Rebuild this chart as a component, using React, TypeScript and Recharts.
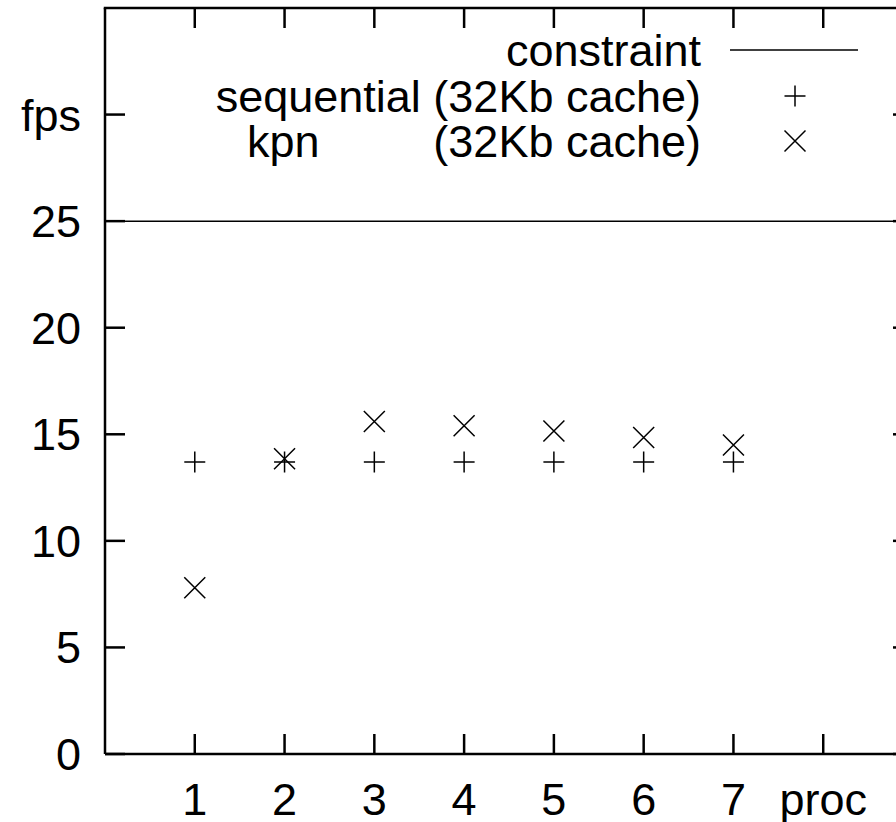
import React from 'react';
import { ComposedChart, Scatter, XAxis, YAxis, ReferenceLine } from 'recharts';

const procs = [1, 2, 3, 4, 5, 6, 7];
const sequentialFps = [13.7, 13.7, 13.7, 13.7, 13.7, 13.7, 13.7];
const kpnFps = [7.8, 13.85, 15.6, 15.4, 15.15, 14.85, 14.5];
const constraintFps = 25;
const xTicks = [1, 2, 3, 4, 5, 6, 7, 8];
const yTicks = [0, 5, 10, 15, 20, 25, 30];
const xMax = 9;
const yMax = 35;
const xLabel = 'proc';
const yLabel = 'fps';
const legendNames = ['constraint', 'sequential (32Kb cache)', 'kpn', '(32Kb cache)'];

const sequentialData = procs.map((p, i) => ({ proc: p, fps: sequentialFps[i] }));
const kpnData = procs.map((p, i) => ({ proc: p, fps: kpnFps[i] }));

const CHART_W = 930;
const CHART_H = 822;
const LEFT_W = 105;
const RIGHT_W = 17;
const TOP_M = 8;
const BOTTOM_H = 68;

const FONT = '"Liberation Sans", Arial, Helvetica, sans-serif';
const FS = 45;
const tickStyle = { fontSize: FS, fill: '#000', fontFamily: FONT };
const axisLine = { stroke: '#000', strokeWidth: 2.5 };
const tickLine = { stroke: '#000', strokeWidth: 2.5 };

const plusPath = (x: number, y: number, r: number) =>
  `M${x - r},${y}H${x + r}M${x},${y - r}V${y + r}`;
const crossPath = (x: number, y: number, r: number) =>
  `M${x - r},${y - r}L${x + r},${y + r}M${x - r},${y + r}L${x + r},${y - r}`;

const PlusShape = (props: any) => (
  <path d={plusPath(props.cx, props.cy, 10.5)} stroke="#000" strokeWidth={1.5} fill="none" />
);
const CrossShape = (props: any) => (
  <path d={crossPath(props.cx, props.cy, 10.5)} stroke="#000" strokeWidth={1.5} fill="none" />
);
const NoShape = () => <g />;

// legend plus the top frame edge with its inward ticks
const Overlay = () => {
  const textX = 701;
  const markX = 795;
  const rows = [50, 96, 141];
  const t = (y: number) => y + FS * 0.355;
  const plotRight = CHART_W - RIGHT_W;
  const step = (plotRight - LEFT_W) / xMax;
  return (
    <svg
      width={896}
      height={170}
      style={{ position: 'absolute', top: 0, left: 0, pointerEvents: 'none' }}
    >
      <line x1={LEFT_W - 1.25} x2={plotRight} y1={TOP_M} y2={TOP_M} stroke="#000" strokeWidth={2.5} />
      {xTicks.map((v) => (
        <line
          key={v}
          x1={LEFT_W + v * step}
          x2={LEFT_W + v * step}
          y1={TOP_M}
          y2={TOP_M + 20}
          stroke="#000"
          strokeWidth={2.5}
        />
      ))}
      <g fontFamily={FONT} fontSize={FS} fill="#000">
        <text x={textX} y={t(rows[0])} textAnchor="end">{legendNames[0]}</text>
        <text x={textX} y={t(rows[1])} textAnchor="end">{legendNames[1]}</text>
        <text x={247} y={t(rows[2])} textAnchor="start">{legendNames[2]}</text>
        <text x={textX} y={t(rows[2])} textAnchor="end">{legendNames[3]}</text>
      </g>
      <line x1={730} x2={858} y1={rows[0]} y2={rows[0]} stroke="#000" strokeWidth={1.5} />
      <path d={plusPath(markX, rows[1], 10.5)} stroke="#000" strokeWidth={1.5} fill="none" />
      <path d={crossPath(markX, rows[2], 10.5)} stroke="#000" strokeWidth={1.5} fill="none" />
    </svg>
  );
};

export default function App() {
  return (
    <div
      style={{
        position: 'fixed',
        top: 0,
        left: 0,
        width: 896,
        height: 822,
        overflow: 'hidden',
        background: '#fff',
      }}
    >
      <ComposedChart
        width={CHART_W}
        height={CHART_H}
        margin={{ top: TOP_M, right: 0, bottom: 0, left: 0 }}
      >
        <XAxis
          dataKey="proc"
          type="number"
          domain={[0, xMax]}
          ticks={xTicks}
          interval={0}
          height={BOTTOM_H}
          tickSize={-20}
          tickMargin={49}
          axisLine={axisLine}
          tickLine={tickLine}
          tick={tickStyle}
          tickFormatter={(v: number) => (v === 8 ? xLabel : String(v))}
        />
        <YAxis
          dataKey="fps"
          type="number"
          domain={[0, yMax]}
          ticks={yTicks}
          interval={0}
          width={LEFT_W}
          tickSize={-20}
          tickMargin={44}
          axisLine={axisLine}
          tickLine={tickLine}
          tick={tickStyle}
          tickFormatter={(v: number) => (v === 30 ? yLabel : String(v))}
        />
        <YAxis
          yAxisId="right"
          dataKey="fps"
          orientation="right"
          type="number"
          domain={[0, yMax]}
          ticks={yTicks}
          interval={0}
          width={RIGHT_W}
          tickSize={-20}
          axisLine={axisLine}
          tickLine={tickLine}
          tickFormatter={() => ''}
        />
        <ReferenceLine y={constraintFps} stroke="#000" strokeWidth={1.5} />
        <Scatter
          name="sequential (32Kb cache)"
          data={sequentialData}
          dataKey="fps"
          shape={PlusShape}
          isAnimationActive={false}
        />
        <Scatter
          name="kpn (32Kb cache)"
          data={kpnData}
          dataKey="fps"
          shape={CrossShape}
          isAnimationActive={false}
        />
        <Scatter
          name="mirror"
          data={kpnData}
          dataKey="fps"
          yAxisId="right"
          shape={NoShape}
          legendType="none"
          isAnimationActive={false}
        />
      </ComposedChart>
      <Overlay />
    </div>
  );
}
